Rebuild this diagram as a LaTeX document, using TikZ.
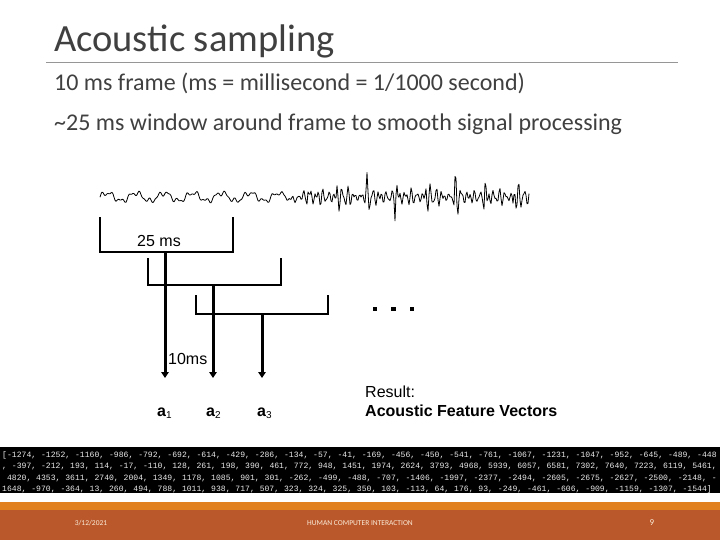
\documentclass[tikz,border=0pt]{standalone}
\usepackage{fontspec}
\setmainfont{Carlito}
\newfontfamily\arialf{Liberation Sans}
\newfontfamily\monof{Liberation Mono}
\usetikzlibrary{arrows.meta}
\definecolor{titlegray}{RGB}{64,64,64}
\definecolor{rulegray}{RGB}{150,150,150}
\definecolor{stripeorange}{RGB}{224,128,30}
\definecolor{footerbrown}{RGB}{186,88,44}
\definecolor{footertext}{RGB}{250,235,215}
\definecolor{numtext}{RGB}{235,235,235}
\tikzset{
  slidetext/.style={anchor=base west, inner sep=0pt, text=black},
  bracketline/.style={line width=2pt, line cap=rect},
  framearrow/.style={line width=3pt, -{Triangle[width=7.5pt,length=6pt]}},
  arialtext/.style={inner sep=0pt, font=\arialf\fontsize{16}{18}\selectfont},
  numline/.style={anchor=base west, inner sep=0pt, text=numtext, font=\monof\fontsize{8.1}{9}\selectfont},
  foot/.style={inner sep=0pt, text=footertext, font=\fontsize{7.5}{9}\selectfont},
  dotsq/.style={fill=black, minimum size=4.5pt, inner sep=0pt},
}
\pgfmathdeclarefunction{wmix}{1}{\pgfmathparse{min(1,max(0,(#1-280)/35))}}
\pgfmathdeclarefunction{lsig}{1}{\pgfmathparse{4*sin(360*mod(#1-100,28.6)/28.6) + 2*sin(360*mod(#1-100,9.5)/9.5+20) + 1.2*sin(360*mod(#1,5.3)/5.3)}}
\pgfmathdeclarefunction{rsig}{1}{\pgfmathparse{(5+15*exp(-mod(#1-100,29.5)/7))*(0.6*sin(360*mod(#1,6.3)/6.3) + 0.5*sin(360*mod(#1,3.7)/3.7+40) + 0.4*sin(360*mod(#1,4.9)/4.9+100))}}
\begin{document}
\begin{tikzpicture}[x=1pt,y=-1pt]
\useasboundingbox (0,0) rectangle (720,540);
\fill[white] (0,0) rectangle (720,540);

% title and rule
\node[slidetext, text=titlegray, font=\fontsize{38.5}{42}\selectfont] (title) at (54,52) {Acoustic sampling};
\draw[rulegray, line width=0.8pt] (46,62) -- (678,62);

\node[slidetext, text=titlegray, font=\fontsize{24}{28}\selectfont] (line1) at (54,91) {10 ms frame (ms = millisecond = 1/1000 second)};
\node[slidetext, text=titlegray, font=\fontsize{24}{28}\selectfont] (line2) at (54,131) {\textasciitilde25 ms window around frame to smooth signal processing};

% waveform
\draw[line width=0.8pt, line join=round] plot[domain=100:529, samples=430, variable=\x]
 ({\x}, {197 - (1-wmix(\x))*lsig(\x) - wmix(\x)*rsig(\x)});

% brackets
\coordinate (b1l) at (100,218); \coordinate (b1r) at (233,218);
\draw[bracketline] (b1l) -- (100,252) -- (233,252) -- (b1r);
\coordinate (b2l) at (148,259); \coordinate (b2r) at (281,259);
\draw[bracketline] (b2l) -- (148,285) -- (281,285) -- (b2r);
\coordinate (b3l) at (196,296); \coordinate (b3r) at (328,296);
\draw[bracketline] (b3l) -- (196,314) -- (328,314) -- (b3r);

\node[arialtext, anchor=base west] (w25) at (137,247) {25 ms};

% arrows
\coordinate (a1s) at (165,252); \coordinate (a1e) at (165,378);
\coordinate (a2s) at (213,285); \coordinate (a2e) at (213,378);
\coordinate (a3s) at (262,314); \coordinate (a3e) at (262,378);
\draw[framearrow] (a1s) -- (a1e);
\draw[framearrow] (a2s) -- (a2e);
\draw[framearrow] (a3s) -- (a3e);

\node[arialtext, anchor=base west] (f10) at (168,364) {10ms};

% dots
\node[dotsq] (d1) at (375,309) {};
\node[dotsq] (d2) at (393.5,309) {};
\node[dotsq] (d3) at (412,309) {};

% feature vector labels
\node[anchor=base west, inner sep=0pt, font=\arialf\fontsize{16}{18}\selectfont] (v1) at (157,416) {\textbf{a}\raisebox{-2.5pt}{\fontsize{10}{11}\selectfont 1}};
\node[anchor=base west, inner sep=0pt, font=\arialf\fontsize{16}{18}\selectfont] (v2) at (206,416) {\textbf{a}\raisebox{-2.5pt}{\fontsize{10}{11}\selectfont 2}};
\node[anchor=base west, inner sep=0pt, font=\arialf\fontsize{16}{18}\selectfont] (v3) at (257,416) {\textbf{a}\raisebox{-2.5pt}{\fontsize{10}{11}\selectfont 3}};

\node[arialtext, anchor=base west] (res) at (365,397) {Result:};
\node[arialtext, anchor=base west, font=\arialf\bfseries\fontsize{16}{18}\selectfont] (afv) at (365,416) {Acoustic Feature Vectors};

% numbers band
\fill[black] (0,447) rectangle (720,493);
\node[numline] (n1) at (2,457.5) {[-1274, -1252, -1160, -986, -792, -692, -614, -429, -286, -134, -57, -41, -169, -456, -450, -541, -761, -1067, -1231, -1047, -952, -645, -489, -448};
\node[numline] (n2) at (2,468.8) {, -397, -212, 193, 114, -17, -110, 128, 261, 198, 390, 461, 772, 948, 1451, 1974, 2624, 3793, 4968, 5939, 6057, 6581, 7302, 7640, 7223, 6119, 5461,};
\node[numline] (n3) at (2,480) {\ 4820, 4353, 3611, 2740, 2004, 1349, 1178, 1085, 901, 301, -262, -499, -488, -707, -1406, -1997, -2377, -2494, -2605, -2675, -2627, -2500, -2148, -};
\node[numline] (n4) at (2,491.3) {1648, -970, -364, 13, 260, 494, 788, 1011, 938, 717, 507, 323, 324, 325, 350, 103, -113, 64, 176, 93, -249, -461, -606, -909, -1159, -1307, -1544]};

% footer
\fill[stripeorange] (0,502) rectangle (720,510);
\fill[footerbrown] (0,510) rectangle (720,540);
\node[foot] (date) at (91,523) {3/12/2021};
\node[foot] (course) at (360,523) {HUMAN COMPUTER INTERACTION};
\node[foot, font=\fontsize{9}{10}\selectfont] (page) at (652,523) {9};
\end{tikzpicture}
\end{document}
